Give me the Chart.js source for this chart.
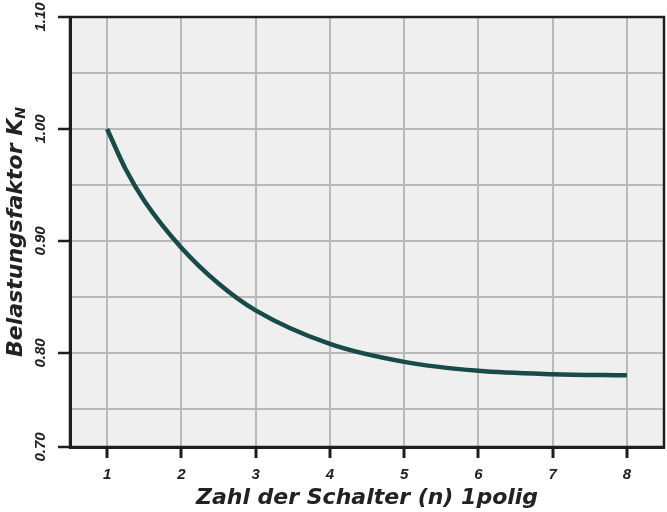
<!DOCTYPE html>
<html>
<head>
<meta charset="utf-8">
<script src="https://cdn.jsdelivr.net/npm/chart.js@4/dist/chart.umd.min.js"></script>
<style>
  html, body { margin: 0; padding: 0; background: #ffffff; }
  #wrap { width: 667px; height: 512px; }
</style>
</head>
<body>
<div id="wrap"><canvas id="kurve" width="667" height="512"></canvas></div>
<script>
// Werte
const schalterZahl = [1, 1.25, 1.5, 2, 2.5, 3, 4, 5, 6, 7, 8];
const belastungsfaktor = [1.000, 0.964, 0.936, 0.894, 0.862, 0.838, 0.808, 0.792, 0.784, 0.781, 0.780];
const xTicks = [1, 2, 3, 4, 5, 6, 7, 8];
const yTickLabels = ['0.70', '0.80', '0.90', '1.00', '1.10'];
const yGridValues = [0.75, 0.80, 0.85, 0.90, 0.95, 1.00, 1.05, 1.10];

// Die Achse im Original ist unten gestaucht: 0.70 sitzt etwa bei 0.716
const yMin = 0.716;
const yMax = 1.10;

const farben = {
    linie: '#184a4a',
    flaeche: '#efefef',
    gitter: '#b9b9b9',
    rahmen: '#1e1e1e',
    text: '#222222'
};
const schrift = 'Liberation Sans, Arial, sans-serif';
const titelSchrift = 'DejaVu Sans, Verdana, sans-serif';

function istBeschriftet(wert) {
    return yTickLabels.some(l => Math.abs(Math.max(parseFloat(l), yMin) - wert) < 0.001);
}

// Hintergrund, Rahmen, gedrehte Y-Beschriftung
const diagrammPlugin = {
    id: 'diagrammPlugin',
    beforeDraw(chart) {
        const { ctx, chartArea: a } = chart;
        ctx.save();
        ctx.fillStyle = farben.flaeche;
        ctx.fillRect(a.left, a.top, a.right - a.left, a.bottom - a.top);
        ctx.restore();
    },
    afterDraw(chart) {
        const { ctx, chartArea: a } = chart;
        const y = chart.scales.y;
        ctx.save();
        ctx.strokeStyle = farben.rahmen;
        ctx.lineWidth = 2.5;
        ctx.strokeRect(a.left, a.top, a.right - a.left, a.bottom - a.top);

        // Y-Tick-Beschriftung (um 90° gedreht)
        ctx.fillStyle = farben.text;
        ctx.font = 'italic bold 15px ' + schrift;
        ctx.textAlign = 'center';
        ctx.textBaseline = 'middle';
        yTickLabels.forEach(label => {
            const py = y.getPixelForValue(Math.max(parseFloat(label), yMin));
            ctx.save();
            ctx.translate(41, py);
            ctx.rotate(-Math.PI / 2);
            ctx.fillText(label, 0, 0);
            ctx.restore();
        });

        // Y-Achsentitel mit Index N
        ctx.save();
        ctx.translate(16, 232);
        ctx.rotate(-Math.PI / 2);
        const haupt = 'Belastungsfaktor K';
        ctx.font = 'italic bold 22px ' + titelSchrift;
        const wHaupt = ctx.measureText(haupt).width;
        ctx.font = 'italic bold 14px ' + titelSchrift;
        const wIndex = ctx.measureText('N').width;
        const start = -(wHaupt + wIndex) / 2;
        ctx.textAlign = 'left';
        ctx.font = 'italic bold 22px ' + titelSchrift;
        ctx.fillText(haupt, start, 0);
        ctx.font = 'italic bold 14px ' + titelSchrift;
        ctx.fillText('N', start + wHaupt, 5);
        ctx.restore();

        ctx.restore();
    }
};

new Chart(document.getElementById('kurve'), {
    type: 'line',
    data: {
        datasets: [{
            label: 'Belastungsfaktor',
            data: schalterZahl.map((n, i) => ({ x: n, y: belastungsfaktor[i] })),
            borderColor: farben.linie,
            borderWidth: 4.5,
            pointRadius: 0,
            fill: false,
            cubicInterpolationMode: 'monotone'
        }]
    },
    options: {
        responsive: false,
        animation: false,
        layout: { padding: { top: 17, right: 3, left: 0, bottom: 0 } },
        plugins: {
            legend: { display: false },
            tooltip: { enabled: false }
        },
        scales: {
            x: {
                type: 'linear',
                min: 0.5,
                max: 8.5,
                afterBuildTicks: scale => { scale.ticks = xTicks.map(v => ({ value: v })); },
                afterFit: scale => { scale.height = 65; },
                grid: {
                    color: farben.gitter,
                    lineWidth: 2,
                    tickLength: 11,
                    tickColor: farben.rahmen,
                    tickWidth: 3
                },
                border: { color: farben.rahmen, width: 3 },
                ticks: {
                    color: farben.text,
                    font: { family: schrift, size: 15, style: 'italic', weight: 'bold' },
                    padding: 8,
                    maxRotation: 0,
                    minRotation: 0
                },
                title: {
                    display: true,
                    text: 'Zahl der Schalter (n) 1polig',
                    color: farben.text,
                    font: { family: titelSchrift, size: 22, style: 'italic', weight: 'bold' },
                    padding: { top: 0, bottom: 1 }
                }
            },
            y: {
                type: 'linear',
                min: yMin,
                max: yMax,
                afterBuildTicks: scale => {
                    scale.ticks = [yMin].concat(yGridValues).map(v => ({ value: v }));
                },
                afterFit: scale => { scale.width = 70; },
                grid: {
                    color: farben.gitter,
                    lineWidth: 2,
                    tickLength: 12,
                    tickColor: c => (c.tick && istBeschriftet(c.tick.value)) ? farben.rahmen : 'rgba(0,0,0,0)',
                    tickWidth: 2.5
                },
                border: { color: farben.rahmen, width: 3 },
                ticks: { display: false }
            }
        }
    },
    plugins: [diagrammPlugin]
});
</script>
</body>
</html>
